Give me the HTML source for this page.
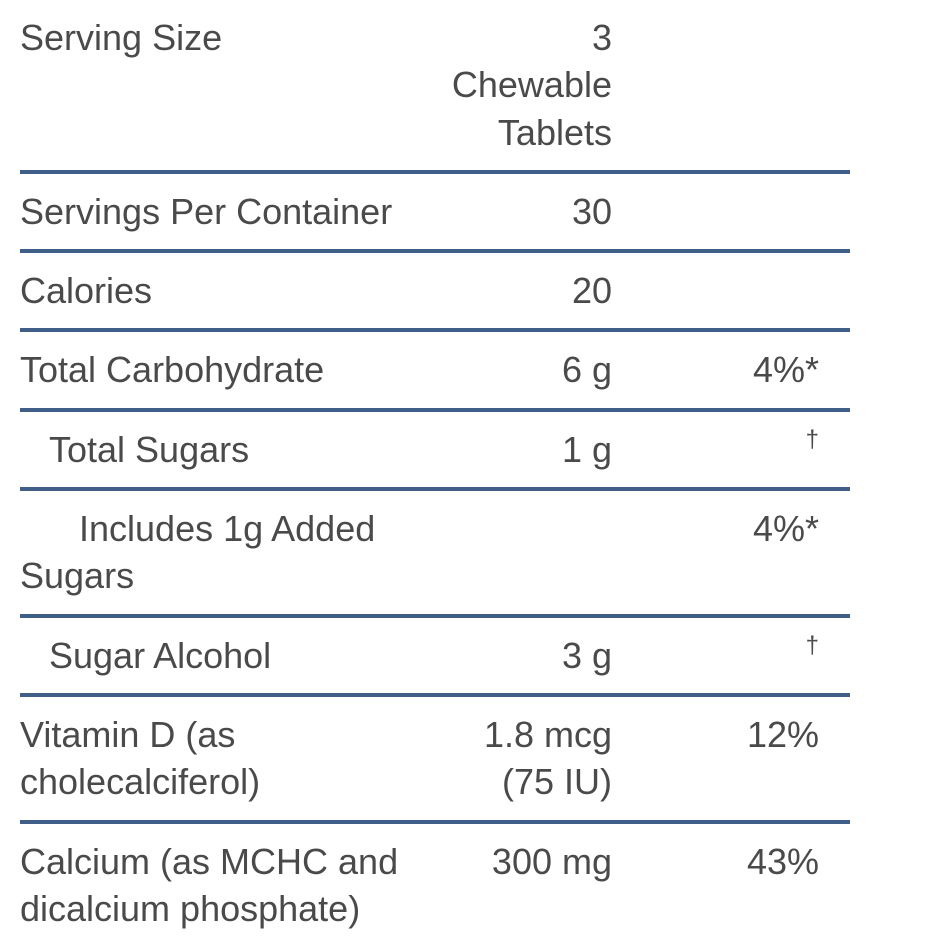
<!DOCTYPE html>
<html>
<head>
<meta charset="utf-8">
<style>
  html, body { margin:0; padding:0; background:#fff; }
  body { width:933px; height:934px; overflow:hidden; position:relative;
         font-family:"Liberation Sans", Arial, sans-serif; font-size:36px; color:#4a4a4a; }
  .tbl { position:absolute; left:20px; top:0; width:830px; }
  .row { display:flex; border-bottom:4px solid #3f5f88; }
  .row.last { border-bottom:none; }
  .c { padding:14px 0; line-height:47.3px; white-space:nowrap; box-sizing:border-box; }
  .c1 { width:413px; text-align:left; }
  .c2 { width:209px; text-align:right; padding-right:30px; }
  .c3 { width:208px; text-align:right; padding-right:31px; }
  .i1 { padding-left:29px; }
  .i2 { text-indent:59px; }
  sup { font-size:24px; vertical-align:top; position:relative; top:2px; line-height:1; }
</style>
</head>
<body>
<div class="tbl">
  <div class="row"><div class="c c1">Serving Size</div><div class="c c2">3<br>Chewable<br>Tablets</div><div class="c c3"></div></div>
  <div class="row"><div class="c c1">Servings Per Container</div><div class="c c2">30</div><div class="c c3"></div></div>
  <div class="row"><div class="c c1">Calories</div><div class="c c2">20</div><div class="c c3"></div></div>
  <div class="row"><div class="c c1">Total Carbohydrate</div><div class="c c2">6 g</div><div class="c c3">4%*</div></div>
  <div class="row"><div class="c c1"><span class="i1">Total Sugars</span></div><div class="c c2">1 g</div><div class="c c3"><sup>†</sup></div></div>
  <div class="row"><div class="c c1 i2">Includes 1g Added<br>Sugars</div><div class="c c2"></div><div class="c c3">4%*</div></div>
  <div class="row"><div class="c c1"><span class="i1">Sugar Alcohol</span></div><div class="c c2">3 g</div><div class="c c3"><sup>†</sup></div></div>
  <div class="row"><div class="c c1">Vitamin D (as<br>cholecalciferol)</div><div class="c c2">1.8 mcg<br>(75 IU)</div><div class="c c3">12%</div></div>
  <div class="row last"><div class="c c1">Calcium (as MCHC and<br>dicalcium phosphate)</div><div class="c c2">300 mg</div><div class="c c3">43%</div></div>
</div>
</body>
</html>
